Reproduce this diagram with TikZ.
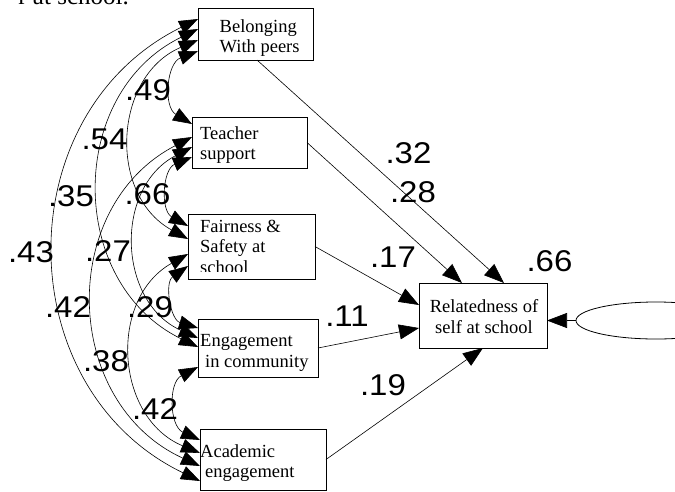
\documentclass[tikz,border=0pt]{standalone}
\usepackage{fontspec}
\setmainfont{Liberation Serif}
\newfontfamily\numfont[FakeStretch=1.1]{Liberation Sans}
\usetikzlibrary{arrows.meta,calc,shapes.geometric}
\begin{document}
\begin{tikzpicture}[x=1pt,y=1pt,
  box/.style={draw, line width=0.8pt, inner sep=0pt, outer sep=0pt, rectangle},
  txt/.style={font=\fontsize{18.5}{20}\selectfont, inner sep=0pt, anchor=base west},
  ctxt/.style={font=\fontsize{18.5}{20}\selectfont, inner sep=0pt, anchor=base},
  num/.style={font=\numfont\fontsize{30}{30}\selectfont, inner sep=0pt},
  tip/.tip={Triangle[length=19pt,width=14pt]},
  cov/.style={tip-tip, line width=0.6pt, bend right=64, looseness=1.18},
  reg/.style={-{Triangle[length=20pt,width=15pt]}, line width=0.6pt},
]
\useasboundingbox (0,0) rectangle (675,-491);
\clip (0,0) rectangle (675,-491);

% caption fragment
\node[font=\fontsize{25}{25}\selectfont, inner sep=0pt, anchor=base east] (cap) at (129,-4) {r at school.};

% boxes
\node[box, minimum width=115pt, minimum height=52pt] (B) at (255.5,-34) {};
\node[box, minimum width=115pt, minimum height=51pt] (T) at (249.5,-142.5) {};
\node[box, minimum width=127pt, minimum height=65pt] (F) at (251.5,-246.5) {};
\node[box, minimum width=120pt, minimum height=58pt] (E) at (258,-348) {};
\node[box, minimum width=126pt, minimum height=61pt] (A) at (263,-459.5) {};
\node[box, minimum width=128pt, minimum height=65pt] (R) at (483,-315.5) {};
\node[draw, ellipse, line width=0.8pt, inner sep=0pt, minimum width=160pt, minimum height=37pt] (el) at (656,-320.5) {};

% box texts
\node[txt] (Bt1) at (219.5,-32) {Belonging};
\node[txt] (Bt2) at (219.5,-52) {With peers};
\node[txt] (Tt1) at (200,-139) {Teacher};
\node[txt] (Tt2) at (200,-159) {support};
\node[txt] (Ft1) at (200,-232) {Fairness \&};
\node[txt] (Ft2) at (200,-252) {Safety at};
\begin{scope}
  \clip (F.south west) ++(0,7.5) rectangle (F.north east);
  \node[txt] (Ft3) at (200,-273) {school};
\end{scope}
\node[txt] (Et1) at (200,-346) {Engagement};
\node[txt] (Et2) at (205,-367) {in community};
\node[txt] (At1) at (200,-457) {Academic};
\node[txt] (At2) at (205,-477) {engagement};
\node[ctxt] (Rt1) at (484,-312) {Relatedness of};
\node[ctxt] (Rt2) at (484,-333) {self at school};

% arc end points on the left edges
\coordinate (bA) at ([yshift=-11pt]B.north west);
\coordinate (bE) at ([yshift=-21pt]B.north west);
\coordinate (bF) at ([yshift=-32pt]B.north west);
\coordinate (bT) at ([yshift=-43pt]B.north west);
\coordinate (tB) at ([yshift=-7pt]T.north west);
\coordinate (tA) at ([yshift=-20pt]T.north west);
\coordinate (tE) at ([yshift=-30pt]T.north west);
\coordinate (tF) at ([yshift=-40pt]T.north west);
\coordinate (fT) at ([yshift=-12pt]F.north west);
\coordinate (fB) at ([yshift=-25pt]F.north west);
\coordinate (fA) at ([yshift=-40pt]F.north west);
\coordinate (fE) at ([yshift=-52pt]F.north west);
\coordinate (eF) at ([yshift=-9pt]E.north west);
\coordinate (eT) at ([yshift=-19pt]E.north west);
\coordinate (eB) at ([yshift=-28pt]E.north west);
\coordinate (eA) at ([yshift=-48pt]E.north west);
\coordinate (aE) at ([yshift=-11pt]A.north west);
\coordinate (aF) at ([yshift=-24pt]A.north west);
\coordinate (aT) at ([yshift=-37pt]A.north west);
\coordinate (aB) at ([yshift=-52pt]A.north west);

% covariances
\draw[cov] (bT) to (tB);
\draw[cov] (bF) to (fB);
\draw[cov] (bE) to (eB);
\draw[cov] (bA) to (aB);
\draw[cov] (tF) to (fT);
\draw[cov] (tE) to (eT);
\draw[cov] (tA) to (aT);
\draw[cov] (fE) to (eF);
\draw[cov] (fA) to (aF);
\draw[cov] (eA) to (aE);

% regressions
\draw[reg] ([xshift=1.5pt]B.south) -- ([xshift=21pt]R.north);
\draw[reg] (T.east) -- ([xshift=-21pt]R.north);
\draw[reg] (F.east) -- ([yshift=10.5pt]R.west);
\draw[reg] (E.east) -- ([yshift=-12.5pt]R.west);
\draw[reg] (A.east) -- (R.south);
\draw[reg] (el.west) -- (R.east |- el.west);

% coefficients
\node[num] (c32) at (408.5,-153.5) {.32};
\node[num] (c28) at (413,-192.5) {.28};
\node[num] (c17) at (393,-257) {.17};
\node[num] (c66r) at (549.5,-261) {.66};
\node[num] (c11) at (347,-316) {.11};
\node[num] (c19) at (383,-385) {.19};
\node[num] (c49) at (148,-90) {.49};
\node[num] (c54) at (104.5,-139) {.54};
\node[num] (c35) at (71,-196) {.35};
\node[num] (c66) at (147.5,-194) {.66};
\node[num] (c43) at (31,-252.5) {.43};
\node[num] (c27) at (108,-251) {.27};
\node[num] (c42a) at (68,-307.5) {.42};
\node[num] (c29) at (150,-307.5) {.29};
\node[num] (c38) at (106,-361) {.38};
\node[num] (c42b) at (155,-409) {.42};
\end{tikzpicture}
\end{document}
